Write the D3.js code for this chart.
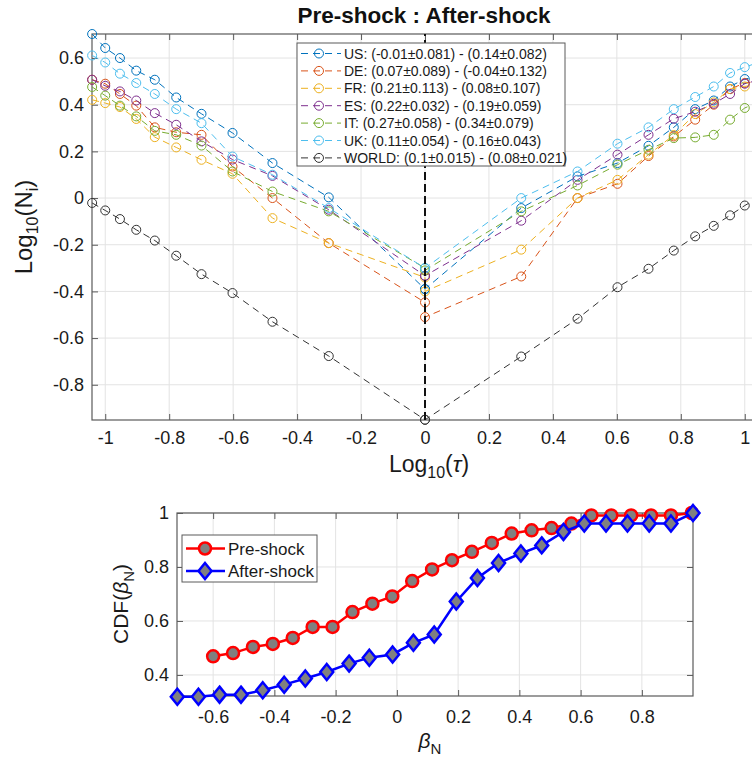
<!DOCTYPE html>
<html>
<head>
<meta charset="utf-8">
<script src="https://cdn.jsdelivr.net/npm/d3@7"></script>
<style>
    body { margin: 0; background: #fff; }
    svg { display: block; font-family: "Liberation Sans", Arial, sans-serif; }
</style>
</head>
<body>
<svg id="chart" width="752" height="761"></svg>
<script>
// ---- top panel : Log10(N_i) vs Log10(tau) ----
const countries = ['US', 'DE', 'FR', 'ES', 'IT', 'UK', 'WORLD']
const countryColors = ['#0072BD', '#D95319', '#EDB120', '#7E2F8E', '#77AC30', '#4DBEEE', '#333333']
const legendLabels = [
    'US: (-0.01\u00B10.081) - (0.14\u00B10.082)',
    'DE: (0.07\u00B10.089) - (-0.04\u00B10.132)',
    'FR: (0.21\u00B10.113) - (0.08\u00B10.107)',
    'ES: (0.22\u00B10.032) - (0.19\u00B10.059)',
    'IT: (0.27\u00B10.058) - (0.34\u00B10.079)',
    'UK: (0.11\u00B10.054) - (0.16\u00B10.043)',
    'WORLD: (0.1\u00B10.015) - (0.08\u00B10.021)'
]
// log10(tau), pre-shock side then after-shock side
const logTau = [-1.041, -1, -0.954, -0.903, -0.845, -0.778, -0.699, -0.602, -0.477, -0.301, 0,
    0, 0.301, 0.477, 0.602, 0.699, 0.778, 0.845, 0.903, 0.954, 1, 1.041]
const usVals = [0.703, 0.643, 0.600, 0.546, 0.507, 0.431, 0.361, 0.279, 0.150, 0.003, -0.390,
    -0.390, -0.043, 0.093, 0.150, 0.224, 0.303, 0.381, 0.418, 0.478, 0.510, 0.520]
const deVals = [0.507, 0.490, 0.446, 0.396, 0.303, 0.282, 0.271, 0.135, 0.000, -0.193, -0.447,
    -0.510, -0.336, 0.000, 0.061, 0.180, 0.264, 0.336, 0.400, 0.467, 0.493, 0.500]
const frVals = [0.421, 0.407, 0.390, 0.339, 0.261, 0.217, 0.164, 0.104, -0.086, -0.193, -0.340,
    -0.400, -0.221, 0.000, 0.078, 0.186, 0.270, 0.360, 0.410, 0.467, 0.478, 0.490]
const esVals = [0.507, 0.481, 0.457, 0.418, 0.364, 0.314, 0.243, 0.165, 0.095, -0.050, -0.333,
    -0.333, -0.097, 0.078, 0.186, 0.271, 0.340, 0.370, 0.404, 0.446, 0.490, 0.505]
const itVals = [0.476, 0.439, 0.396, 0.350, 0.288, 0.271, 0.225, 0.114, 0.028, -0.057, -0.300,
    -0.310, -0.057, 0.054, 0.143, 0.207, 0.257, 0.260, 0.271, 0.336, 0.386, 0.410]
const ukVals = [0.611, 0.581, 0.533, 0.493, 0.446, 0.381, 0.321, 0.178, 0.100, -0.043, -0.300,
    -0.300, 0.000, 0.114, 0.233, 0.303, 0.381, 0.433, 0.478, 0.536, 0.561, 0.580]
const worldVals = [-0.021, -0.053, -0.090, -0.136, -0.182, -0.247, -0.326, -0.407, -0.530, -0.677, -0.950,
    -0.950, -0.679, -0.517, -0.382, -0.303, -0.225, -0.164, -0.119, -0.074, -0.032, 0.000]
const countryVals = [usVals, deVals, frVals, esVals, itVals, ukVals, worldVals]
const topXTicks = [-1, -0.8, -0.6, -0.4, -0.2, 0, 0.2, 0.4, 0.6, 0.8, 1]
const topYTicks = [-0.8, -0.6, -0.4, -0.2, 0, 0.2, 0.4, 0.6]

// ---- bottom panel : CDF(beta_N) ----
const preBeta = [-0.600, -0.535, -0.470, -0.405, -0.340, -0.275, -0.210, -0.145, -0.080, -0.015, 0.050, 0.115,
    0.180, 0.245, 0.310, 0.375, 0.440, 0.505, 0.570, 0.635, 0.700, 0.765, 0.830, 0.895, 0.963]
const preCdf = [0.469, 0.481, 0.504, 0.515, 0.537, 0.578, 0.578, 0.633, 0.664, 0.691, 0.748, 0.791,
    0.825, 0.856, 0.889, 0.924, 0.936, 0.944, 0.961, 0.991, 0.991, 0.991, 0.991, 0.991, 1.000]
const afterBeta = [-0.717, -0.648, -0.579, -0.509, -0.438, -0.368, -0.299, -0.229, -0.156, -0.090, -0.014, 0.054,
    0.122, 0.194, 0.263, 0.332, 0.405, 0.473, 0.544, 0.612, 0.683, 0.753, 0.824, 0.895, 0.967]
const afterCdf = [0.319, 0.319, 0.327, 0.327, 0.343, 0.364, 0.387, 0.411, 0.442, 0.464, 0.476, 0.519,
    0.550, 0.672, 0.759, 0.815, 0.850, 0.880, 0.930, 0.961, 0.961, 0.961, 0.961, 0.961, 1.000]
const botXTicks = [-0.6, -0.4, -0.2, 0, 0.2, 0.4, 0.6, 0.8]
const botYTicks = [0.4, 0.6, 0.8, 1]
const cdfSeries = ['Pre-shock', 'After-shock']


const svg = d3.select('#chart')
const axisColor = '#5a5a5a'
const gridColor = '#e3e3e3'
const fmt = d => String(+d.toFixed(1))

svg.append('rect').attr('width', 752).attr('height', 761).style('fill', '#fff')

function frame(g, x, y, xTicks, yTicks, xPad) {
    let [x0, x1] = x.range()
    let [y0, y1] = y.range()

    // grid
    g.append('g').selectAll('line').data(xTicks).join('line')
        .attr('x1', d => x(d)).attr('x2', d => x(d)).attr('y1', y0).attr('y2', y1)
        .style('stroke', gridColor).style('stroke-width', 1)
    g.append('g').selectAll('line').data(yTicks).join('line')
        .attr('y1', d => y(d)).attr('y2', d => y(d)).attr('x1', x0).attr('x2', x1)
        .style('stroke', gridColor).style('stroke-width', 1)

    let bottom = g.append('g').attr('transform', `translate(0,${y0})`)
        .call(d3.axisBottom(x).tickValues(xTicks).tickFormat(fmt).tickSizeInner(-6).tickSizeOuter(0).tickPadding(xPad))
    let top = g.append('g').attr('transform', `translate(0,${y1})`)
        .call(d3.axisTop(x).tickValues(xTicks).tickFormat('').tickSizeInner(-6).tickSizeOuter(0))
    let left = g.append('g').attr('transform', `translate(${x0},0)`)
        .call(d3.axisLeft(y).tickValues(yTicks).tickFormat(fmt).tickSizeInner(-6).tickSizeOuter(0).tickPadding(8))
    let right = g.append('g').attr('transform', `translate(${x1},0)`)
        .call(d3.axisRight(y).tickValues(yTicks).tickFormat('').tickSizeInner(-6).tickSizeOuter(0))

    ;[bottom, top, left, right].forEach(a => {
        a.select('.domain').remove()
        a.selectAll('line').style('stroke', axisColor)
        a.selectAll('text').style('font-size', '18px').style('fill', '#1a1a1a').attr('font-family', null)
    })

    g.append('rect')
        .attr('x', x0).attr('y', y1).attr('width', x1 - x0).attr('height', y0 - y1)
        .style('fill', 'none').style('stroke', axisColor).style('stroke-width', 1.2)
}

// ================= top panel =================
let xTop = d3.scaleLinear().domain([-1.0414, 1.0414]).range([92, 758])
let yTop = d3.scaleLinear().domain([-0.951, 0.703]).range([420, 34])

let gTop = svg.append('g')
frame(gTop, xTop, yTop, topXTicks, topYTicks, 11)

let lineTop = d3.line().x((d, i) => xTop(logTau[i])).y(d => yTop(d))

countryVals.forEach((vals, k) => {
    let s = gTop.append('g')
    s.append('path')
        .attr('d', lineTop(vals))
        .style('fill', 'none')
        .style('stroke', countryColors[k])
        .style('stroke-width', 1)
        .style('stroke-dasharray', '7,5')
    s.selectAll('circle').data(vals).join('circle')
        .attr('cx', (d, i) => xTop(logTau[i]))
        .attr('cy', d => yTop(d))
        .attr('r', 4.5)
        .style('fill', 'none')
        .style('stroke', countryColors[k])
        .style('stroke-width', 1)
})

// vertical dashed line at log10(tau) = 0
gTop.append('line')
    .attr('x1', xTop(0)).attr('x2', xTop(0))
    .attr('y1', yTop(-0.951)).attr('y2', yTop(0.703))
    .style('stroke', '#111').style('stroke-width', 2)
    .style('stroke-dasharray', '8,4')

// legend
let legTop = gTop.append('g').attr('transform', 'translate(297,43)')
legTop.append('rect')
    .attr('width', 268).attr('height', 123)
    .style('fill', '#fff').style('stroke', axisColor).style('stroke-width', 1)
countries.forEach((c, k) => {
    let row = legTop.append('g').attr('transform', `translate(0,${10.5 + k * 17.4})`)
    row.append('line')
        .attr('x1', 4).attr('x2', 44).attr('y1', 0).attr('y2', 0)
        .style('stroke', countryColors[k]).style('stroke-width', 1)
        .style('stroke-dasharray', '7,5')
    row.append('circle')
        .attr('cx', 22).attr('cy', 0).attr('r', 4.5)
        .style('fill', 'none').style('stroke', countryColors[k])
    row.append('text')
        .attr('x', 47).attr('y', 5)
        .text(legendLabels[k])
        .style('font-size', '14px').style('fill', '#1a1a1a')
})

// title and labels
svg.append('text')
    .attr('x', 424).attr('y', 23)
    .attr('text-anchor', 'middle')
    .text('Pre-shock : After-shock')
    .style('font-size', '22.5px').style('font-weight', 'bold').style('fill', '#111')

let xlabTop = svg.append('text')
    .attr('x', 429).attr('y', 472)
    .attr('text-anchor', 'middle')
    .style('font-size', '23px').style('fill', '#1a1a1a')
xlabTop.append('tspan').text('Log')
xlabTop.append('tspan').attr('dy', 6).style('font-size', '16px').text('10')
xlabTop.append('tspan').attr('dy', -6).text('(')
xlabTop.append('tspan').style('font-style', 'italic').text('\u03C4')
xlabTop.append('tspan').text(')')

let ylabTop = svg.append('text')
    .attr('transform', 'translate(32,227) rotate(-90)')
    .attr('text-anchor', 'middle')
    .style('font-size', '24px').style('fill', '#1a1a1a')
ylabTop.append('tspan').text('Log')
ylabTop.append('tspan').attr('dy', 6).style('font-size', '16px').text('10')
ylabTop.append('tspan').attr('dy', -6).text('(N')
ylabTop.append('tspan').attr('dy', 6).style('font-size', '16px').text('i')
ylabTop.append('tspan').attr('dy', -6).text(')')

// ================= bottom panel =================
let xBot = d3.scaleLinear().domain([-0.718, 0.967]).range([177, 693])
let yBot = d3.scaleLinear().domain([0.322, 1]).range([696, 513])

let gBot = svg.append('g')
frame(gBot, xBot, yBot, botXTicks, botYTicks, 14)

let preData = preBeta.map((b, i) => [b, preCdf[i]])
let afterData = afterBeta.map((b, i) => [b, afterCdf[i]])
let lineBot = d3.line().x(d => xBot(d[0])).y(d => yBot(d[1]))

function diamond(cx, cy) {
    return `M${cx},${cy - 8}L${cx + 6.5},${cy}L${cx},${cy + 8}L${cx - 6.5},${cy}Z`
}

gBot.append('path').attr('d', lineBot(preData))
    .style('fill', 'none').style('stroke', '#ff0000').style('stroke-width', 2.5)
gBot.append('g').selectAll('circle').data(preData).join('circle')
    .attr('cx', d => xBot(d[0])).attr('cy', d => yBot(d[1])).attr('r', 6)
    .style('fill', '#808080').style('stroke', '#ff0000').style('stroke-width', 2.5)

gBot.append('path').attr('d', lineBot(afterData))
    .style('fill', 'none').style('stroke', '#0000ff').style('stroke-width', 2.5)
gBot.append('g').selectAll('path').data(afterData).join('path')
    .attr('d', d => diamond(xBot(d[0]), yBot(d[1])))
    .style('fill', '#808080').style('stroke', '#0000ff').style('stroke-width', 2.5)

// legend
let legBot = gBot.append('g').attr('transform', 'translate(182,535)')
legBot.append('rect')
    .attr('width', 135).attr('height', 47)
    .style('fill', '#fff').style('stroke', axisColor).style('stroke-width', 1)
cdfSeries.forEach((name, k) => {
    let row = legBot.append('g').attr('transform', `translate(0,${13.5 + k * 22.5})`)
    row.append('line')
        .attr('x1', 4).attr('x2', 43).attr('y1', 0).attr('y2', 0)
        .style('stroke', k == 0 ? '#ff0000' : '#0000ff').style('stroke-width', 2.5)
    if (k == 0) {
        row.append('circle').attr('cx', 23).attr('cy', 0).attr('r', 6)
            .style('fill', '#808080').style('stroke', '#ff0000').style('stroke-width', 2.5)
    } else {
        row.append('path').attr('d', diamond(23, 0))
            .style('fill', '#808080').style('stroke', '#0000ff').style('stroke-width', 2.5)
    }
    row.append('text')
        .attr('x', 46).attr('y', 6)
        .text(name)
        .style('font-size', '17px').style('fill', '#1a1a1a')
})

let ylabBot = svg.append('text')
    .attr('transform', 'translate(128,604) rotate(-90)')
    .attr('text-anchor', 'middle')
    .style('font-size', '21px').style('fill', '#1a1a1a')
ylabBot.append('tspan').text('CDF(')
ylabBot.append('tspan').style('font-style', 'italic').text('\u03B2')
ylabBot.append('tspan').attr('dy', 6).style('font-size', '15px').text('N')
ylabBot.append('tspan').attr('dy', -6).text(')')

let xlabBot = svg.append('text')
    .attr('x', 430).attr('y', 748)
    .attr('text-anchor', 'middle')
    .style('font-size', '21px').style('fill', '#1a1a1a')
xlabBot.append('tspan').style('font-style', 'italic').text('\u03B2')
xlabBot.append('tspan').attr('dy', 6).style('font-size', '15px').text('N')
</script>
</body>
</html>
